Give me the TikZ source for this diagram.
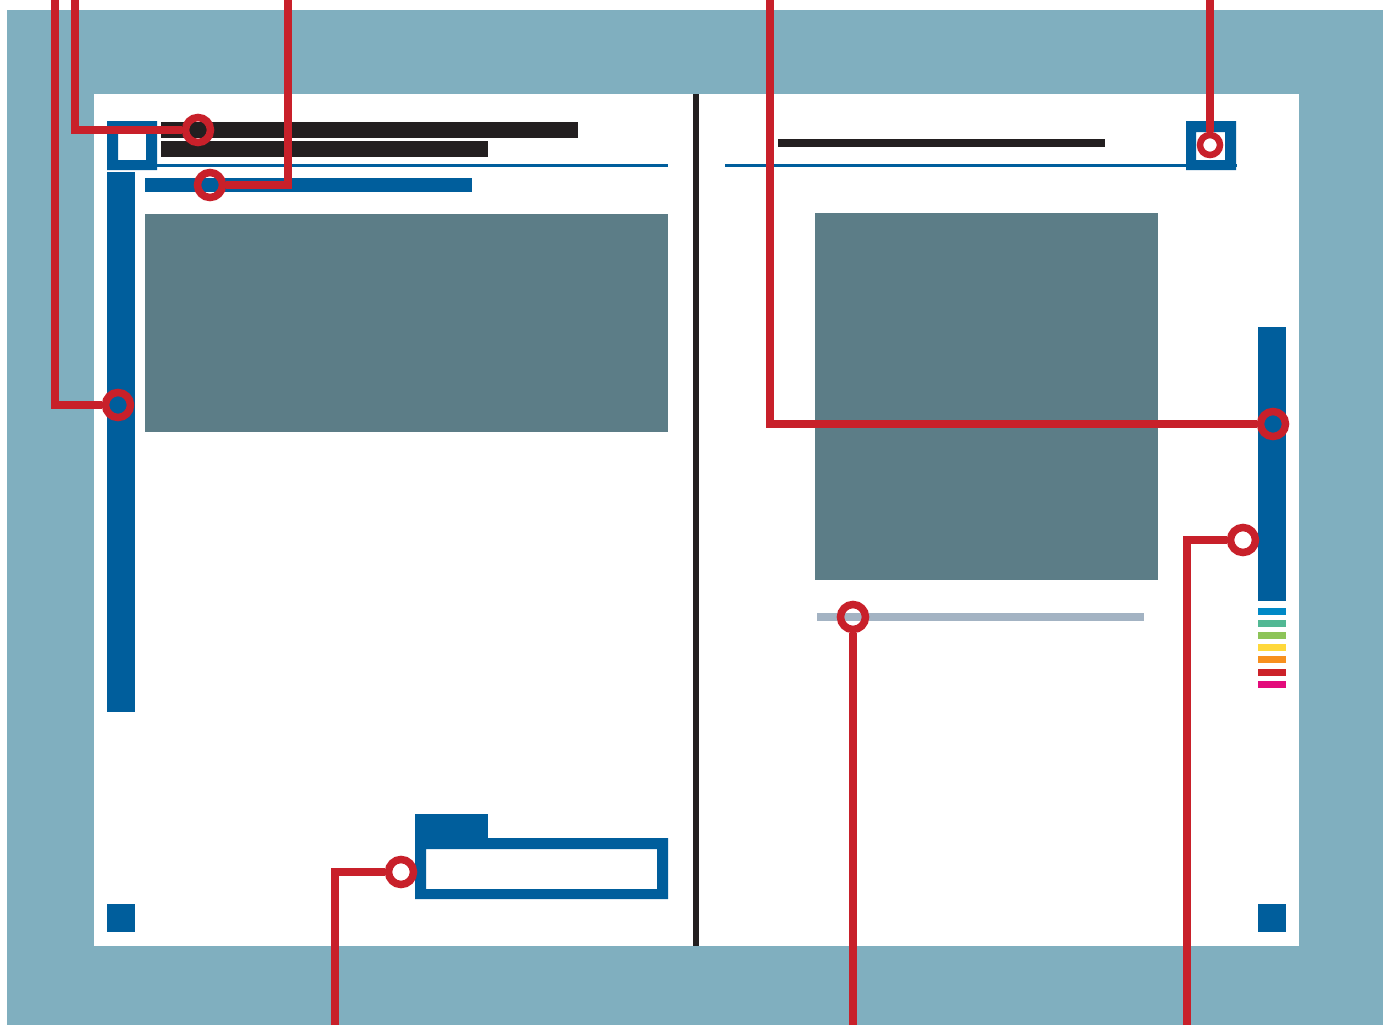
\documentclass[tikz,border=0pt]{standalone}
\usepackage{tikz}

\definecolor{framebg}{HTML}{80AFBF}
\definecolor{pageblue}{HTML}{005E9C}
\definecolor{photo}{HTML}{5C7D87}
\definecolor{inkblack}{HTML}{231F20}
\definecolor{calloutred}{HTML}{C8202A}
\definecolor{captiongray}{HTML}{A3B3C3}
\definecolor{tabcyan}{HTML}{0089C6}
\definecolor{tabteal}{HTML}{52B894}
\definecolor{tabgreen}{HTML}{8DC458}
\definecolor{tabyellow}{HTML}{FFD83B}
\definecolor{taborange}{HTML}{F7901E}
\definecolor{tabred}{HTML}{CC2229}
\definecolor{tabmagenta}{HTML}{E30B7B}

\begin{document}
\begin{tikzpicture}[x=1pt, y=-1pt,
  marker/.style={circle, draw=calloutred, line width=7.5pt, minimum size=25pt, inner sep=0pt},
  smallmarker/.style={marker, line width=6.5pt, minimum size=20pt},
  leader/.style={draw=calloutred, line width=7.5pt}]
  \useasboundingbox (0,0) rectangle (1383,1025);

  % frame and spread
  \fill[framebg] (7,10) rectangle (1383,1025);
  \fill[white] (94,94) rectangle (1299,946);
  \fill[inkblack] (693,94) rectangle (699,946);

  % left page
  \fill[pageblue, even odd rule] (107,121) rectangle (157,170) (118,132) rectangle (146,160);
  \fill[pageblue] (107,172) rectangle (135,712);
  \fill[inkblack] (161,122) rectangle (578,138);
  \fill[inkblack] (161,141) rectangle (488,157);
  \fill[pageblue] (157,164) rectangle (668,167);
  \fill[pageblue] (145,178) rectangle (472,192);
  \fill[photo] (145,214) rectangle (668,432);
  \fill[pageblue] (415,814) rectangle (488,846);
  \fill[pageblue, even odd rule] (415,838) rectangle (668,899) (426,849) rectangle (657,889);
  \fill[pageblue] (107,904) rectangle (135,932);

  % right page
  \fill[inkblack] (778,139) rectangle (1105,147);
  \fill[pageblue] (725,164) rectangle (1237,167);
  \fill[pageblue, even odd rule] (1186,121) rectangle (1236,170) (1196,132) rectangle (1225,160);
  \fill[photo] (815,213) rectangle (1158,580);
  \fill[captiongray] (817,613) rectangle (1144,621);
  \fill[pageblue] (1258,327) rectangle (1286,601);
  \fill[tabcyan] (1258,608) rectangle (1286,615);
  \fill[tabteal] (1258,620) rectangle (1286,627);
  \fill[tabgreen] (1258,632) rectangle (1286,639);
  \fill[tabyellow] (1258,644) rectangle (1286,651);
  \fill[taborange] (1258,656) rectangle (1286,663);
  \fill[tabred] (1258,669) rectangle (1286,676);
  \fill[tabmagenta] (1258,681) rectangle (1286,688);
  \fill[pageblue] (1258,904) rectangle (1286,932);

  % callout markers
  \node[marker] (sidebar) at (118,405) {};
  \node[marker] (headline) at (198,130) {};
  \node[marker] (subhead) at (210,185) {};
  \node[marker] (thumbtab) at (1273,424) {};
  \node[smallmarker] (pageicon) at (1210,145) {};
  \node[marker] (tabedge) at (1243,540) {};
  \node[marker] (caption) at (853,617) {};
  \node[marker] (infobox) at (401,872) {};

  \coordinate (sidebarend) at (55,0);
  \coordinate (headlineend) at (75,0);
  \coordinate (subheadend) at (288,0);
  \coordinate (thumbtabend) at (770,0);
  \coordinate (pageiconend) at (1210,0);
  \coordinate (tabedgeend) at (1187,1025);
  \coordinate (captionend) at (853,1025);
  \coordinate (infoboxend) at (335,1025);

  \draw[leader] (sidebarend) |- (sidebar);
  \draw[leader] (headlineend) |- (headline);
  \draw[leader] (subheadend) |- (subhead);
  \draw[leader] (thumbtabend) |- (thumbtab);
  \draw[leader] (pageiconend) -- (pageicon);
  \draw[leader] (tabedgeend) |- (tabedge);
  \draw[leader] (captionend) -- (caption);
  \draw[leader] (infoboxend) |- (infobox);
\end{tikzpicture}
\end{document}
